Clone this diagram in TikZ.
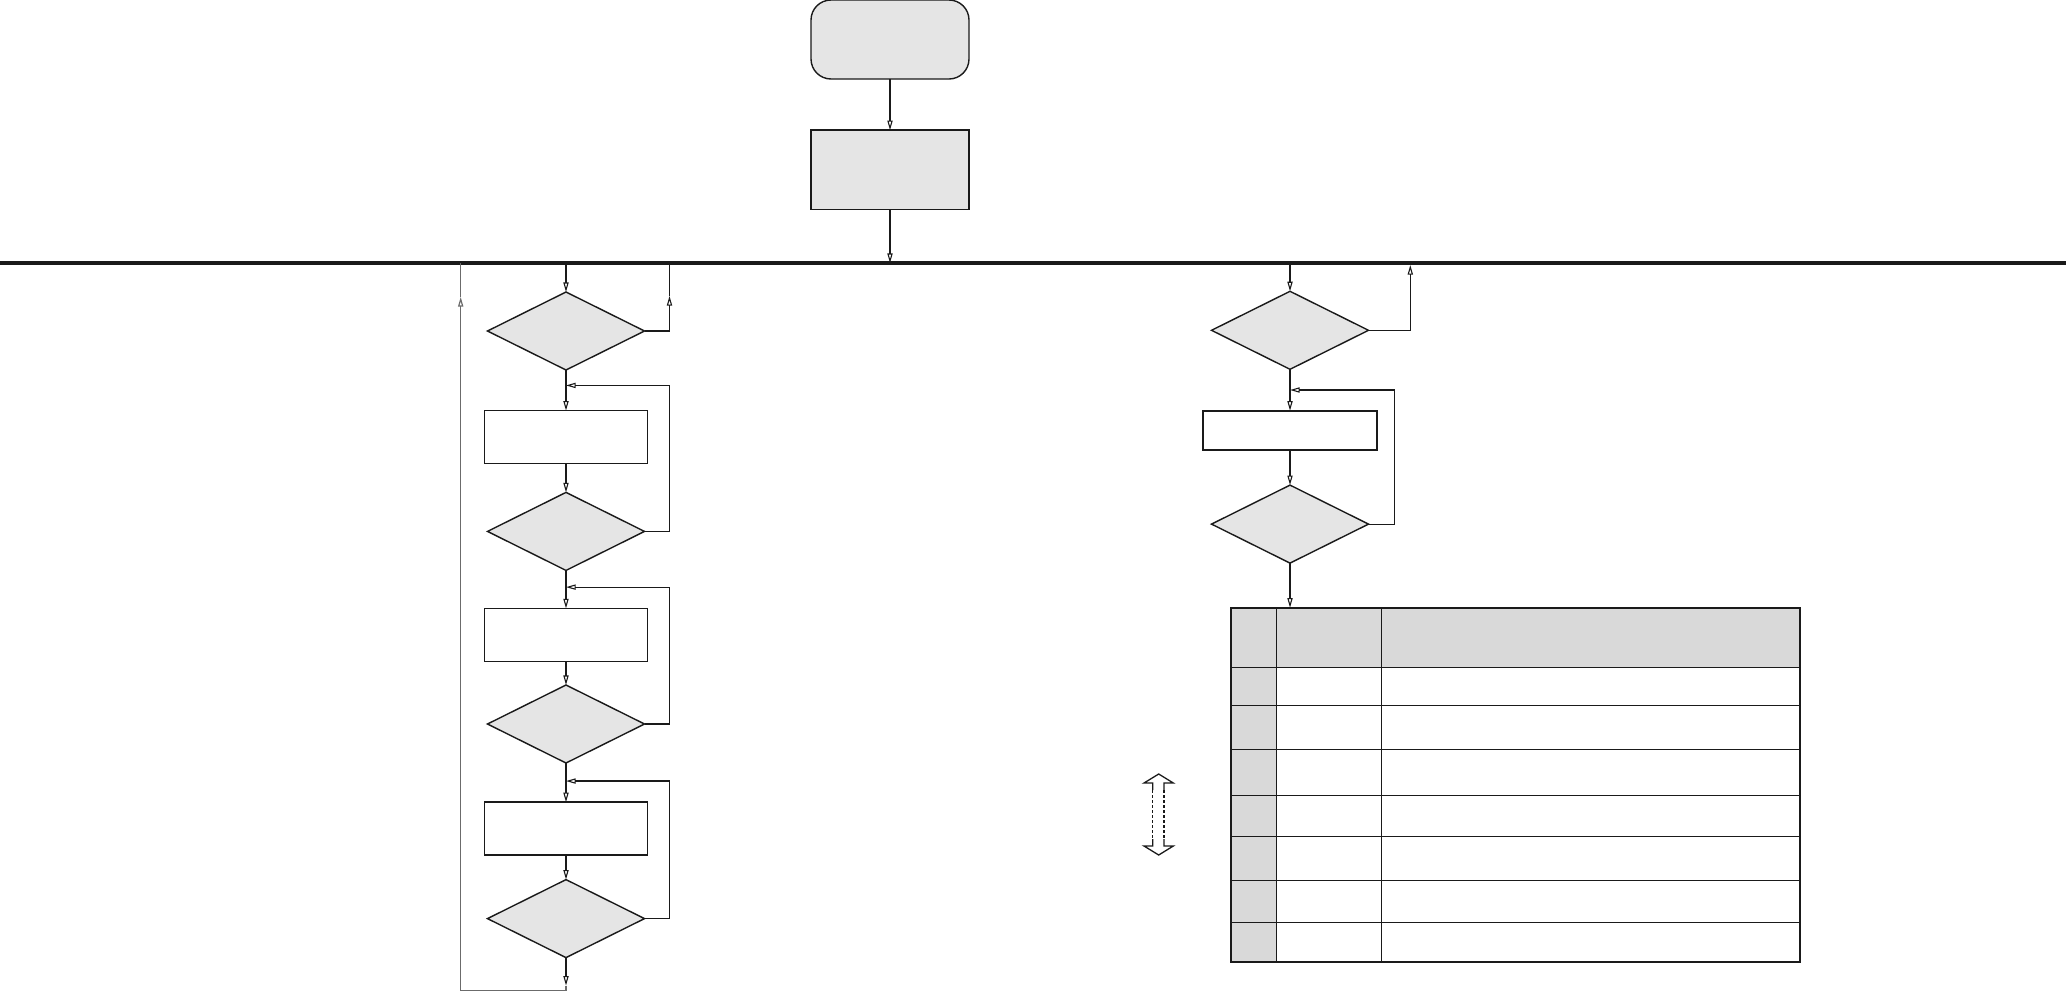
\documentclass[tikz,border=0pt]{standalone}
\usepackage{tikz}
\usetikzlibrary{arrows.meta,positioning,shapes.geometric,calc}
\definecolor{boxfill}{HTML}{E5E5E5}
\definecolor{cellfill}{HTML}{D9D9D9}
\definecolor{ink}{HTML}{1A1A1A}
\definecolor{retgray}{HTML}{6B6B6B}
\tikzset{
  startbox/.style={draw=ink, fill=boxfill, line width=0.7pt, rounded corners=10pt,
    minimum width=79pt, minimum height=39.5pt, inner sep=0pt, outer sep=0pt},
  initbox/.style={draw=ink, fill=boxfill, line width=0.75pt,
    minimum width=79pt, minimum height=39.7pt, inner sep=0pt, outer sep=0pt},
  procbox/.style={draw=ink, fill=white, line width=0.8pt,
    minimum width=81.5pt, minimum height=26.5pt, inner sep=0pt, outer sep=0pt},
  decbox/.style={diamond, draw=ink, fill=boxfill, line width=0.7pt,
    minimum width=78.5pt, minimum height=39pt, inner sep=0pt, outer sep=0pt},
  arr/.style={-{Triangle[open, length=4.8pt, width=2.6pt]}, line width=0.55pt, draw=ink},
  plain/.style={line width=0.55pt, draw=ink},
  retarr/.style={arr, draw=retgray, line width=0.6pt},
  retline/.style={plain, draw=retgray, line width=0.6pt},
  bus/.style={line width=2pt, draw=ink},
  grid/.style={line width=0.55pt, draw=ink},
  tabframe/.style={draw=ink, line width=1.1pt, minimum width=284.35pt,
    minimum height=177.15pt, inner sep=0pt, outer sep=0pt},
  dbarrow/.style={line width=0.65pt, draw=ink},
  dbshaft/.style={line width=0.65pt, draw=ink, dash pattern=on 1.5pt off 1pt}
}
\begin{document}
\begin{tikzpicture}[x=0.5pt, y=-0.5pt]
    \useasboundingbox (0,0) rectangle (2066,991);
    % top part
    \node[startbox] (start) at (890,39.5) {};
    \node[initbox, below=25.6pt of start] (init) {};
    \coordinate (busL) at (0,263);
    \coordinate (busR) at (2066,263);
    \draw[bus] (busL) -- (busR);
    \draw[arr] (start) -- (init);
    \draw[arr] (init) -- (init.south |- busL);

    % left flow
    \node[decbox] (d1) at (566,331) {};
    \node[procbox, below=20.3pt of d1] (r1) {};
    \node[decbox, below=14.4pt of r1] (d2) {};
    \node[procbox, below=19pt of d2] (r2) {};
    \node[decbox, below=11.8pt of r2] (d3) {};
    \node[procbox, below=19.6pt of d3] (r3) {};
    \node[decbox, below=12.2pt of r3] (d4) {};
    \coordinate (j1) at ($(d1.south)!0.38!(r1.north)$);
    \coordinate (j2) at ($(d2.south)!0.44!(r2.north)$);
    \coordinate (j3) at ($(d3.south)!0.46!(r3.north)$);
    \draw[arr] (d1.north |- busL) -- (d1.north);
    \draw[arr] (d1) -- (r1);
    \draw[arr] (r1) -- (d2);
    \draw[arr] (d2) -- (r2);
    \draw[arr] (r2) -- (d3);
    \draw[arr] (d3) -- (r3);
    \draw[arr] (r3) -- (d4);
    \draw[arr] (d2.east) -- ++(25,0) |- (j1);
    \draw[arr] (d3.east) -- ++(25,0) |- (j2);
    \draw[arr] (d4.east) -- ++(25,0) |- (j3);
    \coordinate (d1up) at ($(d1.east)+(25,-35)$);
    \draw[arr] (d1.east) -| (d1up);
    \draw[plain] (d1up) -- (d1up |- busL);
    % return loop
    \coordinate (d4out) at ($(d4.south)+(0,28)$);
    \coordinate (retup) at (460.7,297);
    \draw[arr] (d4.south) -- (d4out);
    \draw[retarr] (d4out) -- ++(0,4.5) -| (retup);
    \draw[retline] (retup) -- (retup |- busL);

    % right flow
    \node[decbox] (d5) at (1290,330.3) {};
    \node[procbox, minimum width=86.9pt, minimum height=19.7pt, below=20.7pt of d5] (r4) {};
    \node[decbox, below=17.5pt of r4] (d6) {};
    \coordinate (j4) at ($(d5.south)!0.5!(r4.north)$);
    \coordinate (d5top) at (1410.3,265);
    \draw[arr] (d5.north |- busL) -- (d5.north);
    \draw[arr] (d5.east) -| (d5top);
    \draw[arr] (d5) -- (r4);
    \draw[arr] (r4) -- (d6);
    \draw[arr] (d6.east) -- ++(26,0) |- (j4);

    % table
    \fill[cellfill] (1231,607.7) rectangle (1799.7,667.5);
    \fill[cellfill] (1231,667.5) rectangle (1276.3,962);
    \foreach \y in {667.5,705.7,749.3,795.3,836.3,880.3,922.3}
      \draw[grid] (1231,\y) -- (1799.7,\y);
    \foreach \x in {1276.3,1381.7}
      \draw[grid] (\x,607.7) -- (\x,962);
    \node[tabframe] (tab) at (1515.35,784.85) {};
    \draw[arr] (d6.south) -- (d6.south |- tab.north);

    % double arrow
    \draw[dbarrow] (1152.7,790) -- (1152.7,783) -- (1144,783) -- (1158.7,774)
      -- (1173.3,783) -- (1164,783) -- (1164,790);
    \draw[dbarrow] (1152.7,839) -- (1152.7,846) -- (1144,846) -- (1158.7,855)
      -- (1173.3,846) -- (1164,846) -- (1164,839);
    \draw[dbshaft] (1152.7,790) -- (1152.7,839);
    \draw[dbshaft] (1164,790) -- (1164,839);
\end{tikzpicture}
\end{document}
